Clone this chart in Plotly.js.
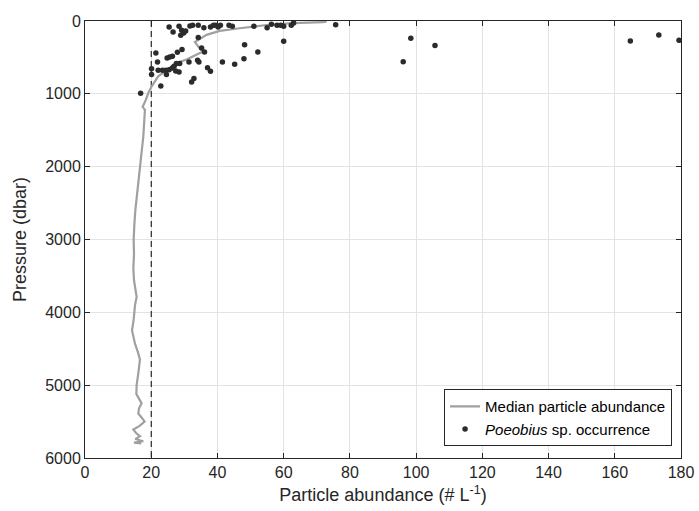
<!DOCTYPE html>
<html>
<head>
<meta charset="utf-8">
<script src="https://cdn.plot.ly/plotly-3.0.1.min.js"></script>
<style>html,body{margin:0;padding:0;background:#fff;}#chart{width:699px;height:511px;}</style>
</head>
<body>
<div id="chart"></div>
<script>
// Median particle abundance profile
const medianDepth = [5, 15, 30, 55, 100, 135, 190, 260, 290, 350, 420, 440, 530, 575, 670, 760, 900, 990, 1080, 1130, 1180, 1220, 1400, 1590, 1800, 2000, 2200, 2410, 2600, 2800, 3000, 3200, 3400, 3560, 3700, 3790, 3900, 4000, 4100, 4250, 4350, 4430, 4550, 4650, 4800, 5000, 5120, 5200, 5250, 5320, 5390, 5450, 5500, 5560, 5610, 5660, 5700, 5740, 5770, 5790, 5800];
const medianAbund = [73, 71.9, 62.8, 54.8, 46.7, 40.7, 36.7, 34.2, 33.2, 34.2, 35.7, 34.7, 30.7, 27.6, 24.6, 22.1, 20.1, 19.1, 18.4, 17.8, 17.4, 18.1, 17.9, 17.6, 17.1, 16.6, 16.0, 15.5, 15.2, 14.9, 14.7, 14.8, 14.6, 14.8, 15.2, 15.6, 15.1, 15.0, 14.7, 14.2, 14.6, 15.1, 16.0, 16.6, 16.2, 15.6, 15.5, 16.4, 17.1, 16.3, 16.1, 17.2, 18.0, 16.5, 14.6, 15.5, 16.6, 15.2, 17.6, 14.8, 17.0];

// Poeobius sp. occurrences
const occAbund = [25.4, 28.4, 26.6, 29.2, 28.9, 30.4, 29.8, 31.7, 32.5, 34.2, 35.9, 37.9, 38.8, 39.5, 40.2, 40.9, 43.5, 44.5, 51, 55, 56.3, 58, 59.1, 60, 62.3, 63, 75.7, 60, 48.2, 52.2, 48, 45.2, 41.5, 37, 37.9, 36.1, 35.2, 34.2, 34, 34.4, 31.4, 32.9, 32.2, 29.3, 27.9, 26.4, 24.8, 25.6, 21.4, 21.9, 28.6, 27.6, 26.9, 26.4, 25.4, 24.4, 23.4, 22.1, 20.1, 20.1, 24.6, 27.4, 28.4, 22.9, 16.8, 98.4, 105.7, 96.1, 164.7, 173.3, 179.4];
const occDepth = [82, 73, 151, 128, 196, 137, 165, 68, 59, 59, 91, 82, 59, 59, 82, 59, 59, 73, 73, 91, 45, 59, 59, 73, 59, 27, 50, 279, 325, 425, 517, 595, 563, 641, 691, 425, 370, 228, 540, 563, 563, 791, 837, 393, 430, 485, 508, 495, 439, 563, 585, 585, 622, 645, 668, 677, 677, 677, 654, 736, 736, 687, 700, 893, 993, 238, 338, 558, 275, 192, 265];

// Reference threshold line
const thresholdX = [20, 20];
const thresholdDepth = [0, 6000];

const xTicks = [0, 20, 40, 60, 80, 100, 120, 140, 160, 180];
const yTicks = [0, 1000, 2000, 3000, 4000, 5000, 6000];

const FONT = 'Liberation Sans, Arial, Helvetica, sans-serif';
const AX = '#262626';

const traces = [
  {
    x: thresholdX, y: thresholdDepth, mode: 'lines', showlegend: false, hoverinfo: 'skip',
    line: {color: '#000', width: 1, dash: '6px,4px'}
  },
  {
    x: medianAbund, y: medianDepth, mode: 'lines', name: 'Median particle abundance',
    line: {color: '#a0a0a0', width: 2.2}
  },
  {
    x: occAbund, y: occDepth, mode: 'markers', name: '<i>Poeobius</i> sp. occurrence',
    marker: {color: '#2b2b2b', size: 5.5}
  }
];

const axisCommon = {
  showline: true, linecolor: AX, linewidth: 1, mirror: 'ticks',
  ticks: 'inside', ticklen: 5, tickcolor: AX, tickwidth: 1,
  showgrid: true, gridcolor: '#e3e3e3', gridwidth: 1,
  zeroline: false, tickfont: {family: FONT, size: 16, color: '#262626'}
};

const layout = {
  width: 699, height: 511,
  margin: {l: 85, r: 18, t: 21, b: 53},
  paper_bgcolor: '#fff', plot_bgcolor: '#fff',
  font: {family: FONT, color: '#262626'},
  xaxis: Object.assign({}, axisCommon, {
    range: [0, 180], tickvals: xTicks, ticktext: xTicks.map(String),
    title: {text: 'Particle abundance (# L<sup>-1</sup>)', font: {family: FONT, size: 18, color: '#262626'}, standoff: 8}
  }),
  yaxis: Object.assign({}, axisCommon, {
    range: [6000, 0], tickvals: yTicks, ticktext: yTicks.map(String),
    title: {text: 'Pressure (dbar)', font: {family: FONT, size: 18, color: '#262626'}, standoff: 13}
  }),
  legend: {
    x: 0.985, xanchor: 'right', y: 0.027, yanchor: 'bottom',
    bgcolor: '#fff', bordercolor: AX, borderwidth: 1,
    font: {family: FONT, size: 15, color: '#000'},
    tracegroupgap: 0, itemwidth: 30
  },
  showlegend: true
};

Plotly.newPlot('chart', traces, layout, {staticPlot: true, displayModeBar: false});
</script>
</body>
</html>
